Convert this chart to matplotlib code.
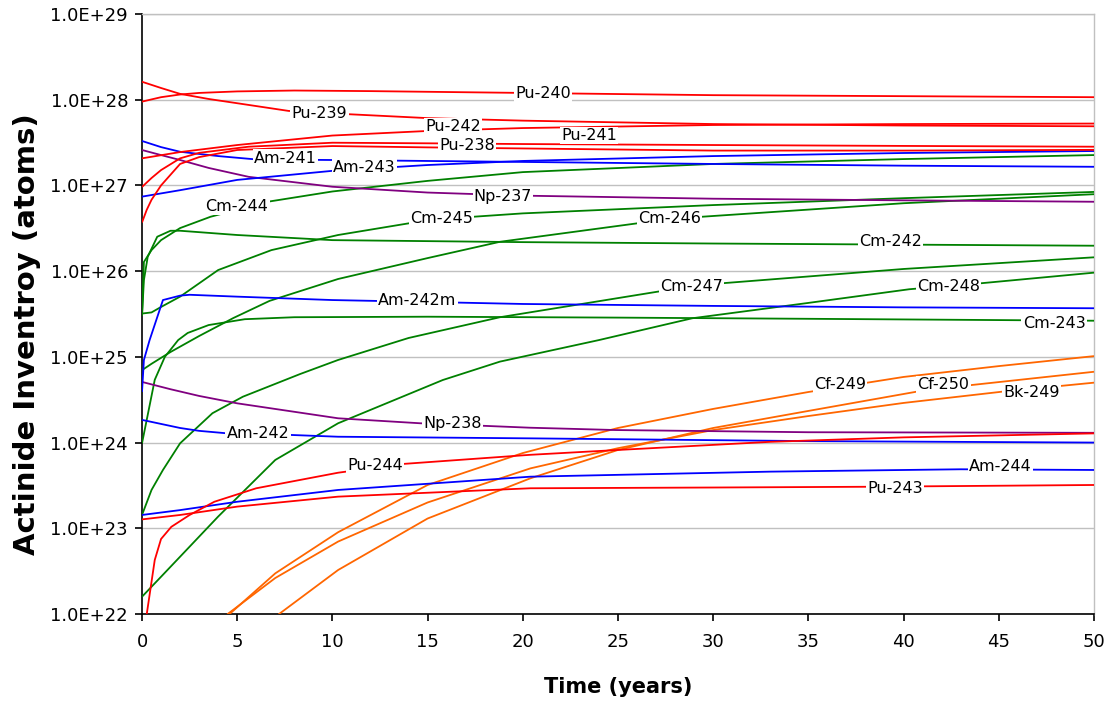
import matplotlib
matplotlib.use("Agg")
import matplotlib.pyplot as plt
from matplotlib.ticker import FixedLocator, FuncFormatter, NullLocator

# ---------------- data (time in years, inventory in atoms) ----------------
t_pu240 = [0, 1, 2, 3, 5, 8, 12, 20, 30, 40, 50]
pu240 = [9.5e27, 1.07e28, 1.15e28, 1.2e28, 1.25e28, 1.28e28, 1.26e28, 1.2e28, 1.13e28, 1.1e28, 1.07e28]

t_pu239 = [0, 1, 2, 3.5, 5, 7.7, 10.7, 15, 20, 30, 40, 50]
pu239 = [1.62e28, 1.37e28, 1.17e28, 1.02e28, 9.1e27, 7.4e27, 6.8e27, 6.1e27, 5.7e27, 5.2e27, 5.0e27, 4.9e27]

t_pu242 = [0, 2, 5, 10, 15, 20, 30, 40, 50]
pu242 = [2.07e27, 2.45e27, 2.96e27, 3.82e27, 4.32e27, 4.67e27, 5.07e27, 5.2e27, 5.27e27]

t_pu238 = [0, 0.5, 1, 2, 3, 5.6, 10, 15, 20, 30, 40, 50]
pu238 = [9.6e26, 1.22e27, 1.51e27, 2.07e27, 2.4e27, 2.83e27, 3.15e27, 3.1e27, 3.04e27, 2.96e27, 2.89e27, 2.83e27]

t_pu241 = [0, 0.25, 0.5, 1, 2, 3, 5, 10, 15, 20, 30, 40, 50]
pu241 = [3.7e26, 5.2e26, 6.8e26, 1.0e27, 1.78e27, 2.14e27, 2.59e27, 2.88e27, 2.78e27, 2.7e27, 2.55e27, 2.55e27, 2.6e27]

t_am241 = [0, 1, 2, 4, 6, 10, 20, 30, 40, 50]
am241 = [3.3e27, 2.8e27, 2.47e27, 2.2e27, 2.01e27, 1.98e27, 1.88e27, 1.78e27, 1.7e27, 1.65e27]

t_am243 = [0, 2, 5, 10, 15, 20, 30, 40, 50]
am243 = [7.4e26, 8.8e26, 1.16e27, 1.48e27, 1.73e27, 1.93e27, 2.2e27, 2.39e27, 2.52e27]

t_np237 = [0, 1, 2, 3.5, 5.6, 10, 15, 20, 30, 40, 50]
np237 = [2.59e27, 2.26e27, 1.98e27, 1.6e27, 1.26e27, 9.65e26, 8.26e26, 7.6e26, 7.0e26, 6.7e26, 6.45e26]

t_cm244 = [0, 0.1, 0.5, 1, 2, 3.6, 6.6, 10, 15, 20, 30, 40, 50]
cm244 = [3e25, 1.28e26, 1.76e26, 2.3e26, 3.18e26, 4.31e26, 6.45e26, 8.5e26, 1.13e27, 1.43e27, 1.78e27, 2.03e27, 2.26e27]

t_cm242 = [0, 0.1, 0.3, 0.8, 1.5, 2, 5, 10, 20, 30, 50]
cm242 = [3e25, 7.85e25, 1.47e26, 2.52e26, 2.96e26, 2.96e26, 2.64e26, 2.3e26, 2.18e26, 2.1e26, 1.98e26]

t_cm245 = [0, 0.5, 1, 2, 4, 6.8, 10.3, 14, 17.4, 20, 30, 40, 50]
cm245 = [3.2e25, 3.3e25, 3.82e25, 5.04e25, 1.03e26, 1.76e26, 2.64e26, 3.61e26, 4.31e26, 4.72e26, 5.9e26, 7.1e26, 8.4e26]

t_cm246 = [0, 0.5, 1.5, 3, 4.8, 6.7, 10.3, 15, 18.8, 26, 29.4, 40, 50]
cm246 = [7.0e24, 8.3e24, 1.14e25, 1.75e25, 2.84e25, 4.5e25, 8.1e25, 1.42e26, 2.2e26, 3.61e26, 4.31e26, 6.2e26, 7.9e26]

t_cm243 = [0, 0.3, 0.67, 1.2, 1.9, 2.4, 3.5, 5.4, 8, 15, 25, 35, 50]
cm243 = [9.8e23, 2.1e24, 5.4e24, 1.0e25, 1.57e25, 1.9e25, 2.35e25, 2.75e25, 2.9e25, 2.94e25, 2.87e25, 2.78e25, 2.64e25]

t_am242m = [0, 0.1, 0.4, 1.1, 2, 2.5, 5, 10, 15, 20, 30, 40, 50]
am242m = [3.9e24, 9.2e24, 1.57e25, 4.6e25, 5.18e25, 5.3e25, 5.04e25, 4.6e25, 4.37e25, 4.14e25, 3.93e25, 3.78e25, 3.69e25]

t_cm247 = [0, 0.5, 1.1, 2, 3.7, 5.3, 8.3, 10.3, 14, 18.8, 27.1, 30.5, 40, 50]
cm247 = [1.43e23, 2.8e23, 4.79e23, 9.8e23, 2.2e24, 3.43e24, 6.3e24, 9.2e24, 1.66e25, 2.9e25, 5.77e25, 7.23e25, 1.06e26, 1.45e26]

t_cm248 = [0, 0.5, 1, 2, 4, 7, 10.3, 15.8, 18.8, 24, 28.9, 35, 40.3, 44, 50]
cm248 = [1.59e22, 2.08e22, 2.72e22, 4.66e22, 1.37e23, 6.27e23, 1.68e24, 5.37e24, 8.8e24, 1.57e25, 2.82e25, 4.26e25, 6.15e25, 7.2e25, 9.6e25]

t_np238 = [0, 1.5, 3, 5, 10.3, 14.6, 17.9, 20.4, 24.9, 35, 50]
np238 = [5.1e24, 4.19e24, 3.5e24, 2.87e24, 1.92e24, 1.68e24, 1.57e24, 1.49e24, 1.40e24, 1.32e24, 1.30e24]

t_am242 = [0, 1, 2, 3, 4.5, 7.7, 10.3, 20.4, 35, 50]
am242 = [1.84e24, 1.65e24, 1.48e24, 1.37e24, 1.28e24, 1.23e24, 1.17e24, 1.12e24, 1.04e24, 1.0e24]

t_pu244 = [0, 0.25, 0.67, 1, 1.54, 2.5, 3.8, 6, 10.3, 13.7, 20.4, 25, 33, 40, 50]
pu244 = [1e21, 1.0e22, 4.27e22, 7.5e22, 1.04e23, 1.43e23, 2.04e23, 2.93e23, 4.45e23, 5.63e23, 7.2e23, 8.2e23, 1.02e24, 1.15e24, 1.28e24]

t_am244 = [0, 2, 5, 10.3, 20.4, 33, 43, 50]
am244 = [1.43e23, 1.63e23, 2.04e23, 2.8e23, 4.0e23, 4.58e23, 4.88e23, 4.79e23]

t_pu243 = [0, 2, 5, 10.3, 20.4, 30, 38, 50]
pu243 = [1.27e23, 1.43e23, 1.79e23, 2.34e23, 2.93e23, 2.99e23, 3.05e23, 3.2e23]

t_cf249 = [4, 4.6, 7, 10.3, 15, 20, 25, 30, 35, 40, 45, 50]
cf249 = [6e21, 1.0e22, 2.98e22, 9.0e22, 3.2e23, 7.55e23, 1.48e24, 2.47e24, 3.89e24, 5.83e24, 7.8e24, 1.02e25]

t_bk249 = [4, 4.5, 7, 10.3, 15, 20.4, 25, 30, 35, 40, 45.2, 50]
bk249 = [6e21, 1e22, 2.63e22, 7.0e22, 2.0e23, 5.0e23, 8.6e23, 1.40e24, 2.04e24, 2.9e24, 3.93e24, 5.0e24]

t_cf250 = [6.5, 7.2, 10.3, 15, 20.4, 25, 30, 35, 40.7, 43.6, 50]
cf250 = [6e21, 1e22, 3.26e22, 1.3e23, 3.83e23, 8.2e23, 1.48e24, 2.34e24, 3.93e24, 4.7e24, 6.7e24]

RED, BLUE, GREEN, PURPLE, ORANGE = "#FF0000", "#0000FF", "#008000", "#800080", "#FF6600"

series = [
    (t_cf249, cf249, ORANGE), (t_bk249, bk249, ORANGE), (t_cf250, cf250, ORANGE),
    (t_cm248, cm248, GREEN), (t_cm247, cm247, GREEN), (t_cm243, cm243, GREEN),
    (t_cm246, cm246, GREEN), (t_cm245, cm245, GREEN), (t_cm242, cm242, GREEN),
    (t_cm244, cm244, GREEN),
    (t_np237, np237, PURPLE), (t_np238, np238, PURPLE),
    (t_am241, am241, BLUE), (t_am243, am243, BLUE), (t_am242m, am242m, BLUE),
    (t_am242, am242, BLUE), (t_am244, am244, BLUE),
    (t_pu240, pu240, RED), (t_pu239, pu239, RED), (t_pu242, pu242, RED),
    (t_pu238, pu238, RED), (t_pu241, pu241, RED), (t_pu244, pu244, RED),
    (t_pu243, pu243, RED),
]

# label anchors (time, inventory)
labels = [
    ("Pu-240", 21.06, 1.23e28), ("Pu-239", 9.32, 7.24e27), ("Pu-242", 16.33, 5.07e27),
    ("Pu-241", 23.48, 3.98e27), ("Pu-238", 17.07, 3.04e27), ("Am-241", 7.54, 2.16e27),
    ("Am-243", 11.69, 1.68e27), ("Np-237", 18.96, 7.73e26), ("Cm-244", 4.99, 5.9e26),
    ("Cm-245", 15.73, 4.24e26), ("Cm-246", 27.7, 4.24e26), ("Cm-242", 39.3, 2.31e26),
    ("Am-242m", 14.47, 4.74e25), ("Cm-247", 28.85, 6.9e25), ("Cm-248", 42.35, 6.9e25),
    ("Cm-243", 47.9, 2.57e25), ("Cf-249", 36.66, 4.9e24), ("Cf-250", 42.1, 4.9e24),
    ("Bk-249", 46.7, 4.0e24), ("Np-238", 16.33, 1.73e24), ("Am-242", 6.09, 1.34e24),
    ("Pu-244", 12.23, 5.58e23), ("Am-244", 45.1, 5.48e23), ("Pu-243", 39.54, 3.06e23),
]

yticks = [1e22, 1e23, 1e24, 1e25, 1e26, 1e27, 1e28, 1e29]
xticks = [0, 5, 10, 15, 20, 25, 30, 35, 40, 45, 50]

# ---------------- figure ----------------
W, H = 1109, 704
fig = plt.figure(figsize=(W / 100, H / 100), dpi=100)
ax = fig.add_axes([142 / W, 90 / H, 952 / W, 600 / H])

for t, v, c in series:
    ax.plot(t, v, color=c, lw=1.3, solid_capstyle="butt", zorder=3)

for txt, tx, vy in labels:
    ax.text(tx, vy, txt, ha="center", va="center_baseline", fontsize=11.5,
            color="black", zorder=5,
            bbox=dict(boxstyle="square,pad=0.08", fc="white", ec="none"))

ax.set_yscale("log")
ax.set_xlim(0, 50)
ax.set_ylim(1e22, 1e29)
ax.yaxis.set_major_locator(FixedLocator(yticks))
ax.yaxis.set_minor_locator(NullLocator())
ax.yaxis.set_major_formatter(FuncFormatter(lambda v, p: f"{v:.1E}"))
ax.xaxis.set_major_locator(FixedLocator(xticks))

ax.yaxis.grid(True, color="#C0C0C0", lw=1.0)
ax.set_axisbelow(True)
for s in ("top", "right"):
    ax.spines[s].set_color("#C0C0C0")
    ax.spines[s].set_linewidth(1.0)
for s in ("left", "bottom"):
    ax.spines[s].set_color("black")
    ax.spines[s].set_linewidth(1.2)

ax.tick_params(axis="both", direction="out", length=5, width=1.2, labelsize=13,
               top=False, right=False)
ax.tick_params(axis="x", pad=9)
ax.tick_params(axis="y", pad=5)

fig.text(618 / W, 1 - 687 / H, "Time (years)", ha="center", va="center",
         fontsize=15, fontweight="bold")
fig.text(27 / W, 1 - 334 / H, "Actinide Inventroy (atoms)", ha="center", va="center",
         rotation=90, fontsize=21, fontweight="bold")

fig.savefig("out.png", dpi=100)
